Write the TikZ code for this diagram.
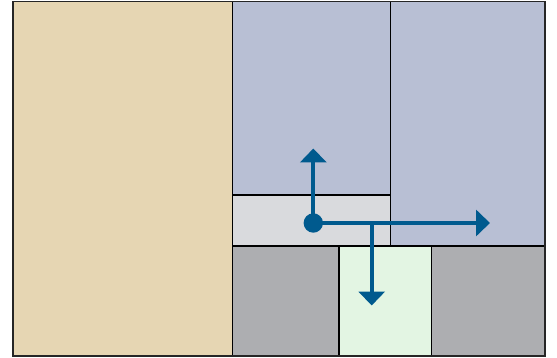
\documentclass[tikz,border=0pt]{standalone}
\usetikzlibrary{arrows.meta}
\definecolor{tanfill}{HTML}{E6D6B3}
\definecolor{bluefill}{HTML}{B8BFD4}
\definecolor{lightgrayfill}{HTML}{D9DADD}
\definecolor{darkgrayfill}{HTML}{ADAEB1}
\definecolor{greenfill}{HTML}{E3F5E3}
\definecolor{flowblue}{HTML}{005A8E}
\begin{document}
\begin{tikzpicture}[x=1pt,y=-1pt,
  panel/.style={draw=black, line width=1.1pt},
  flow/.style={draw=flowblue, line width=4pt, -{Triangle[length=14pt,width=26pt]}},
  plainflow/.style={draw=flowblue, line width=4pt}]
\useasboundingbox (0,0) rectangle (557,358);
% panels
\fill[tanfill] (13,1.5) rectangle (232.5,356);
\fill[bluefill] (232.5,1.5) rectangle (390.5,195);
\fill[bluefill] (390.5,1.5) rectangle (545,246);
\fill[lightgrayfill] (232.5,195) rectangle (390.5,246);
\fill[darkgrayfill] (232.5,246) rectangle (545,356);
\fill[greenfill] (339,246) rectangle (431.5,356);
% panel outlines
\draw[panel] (232.5,1.5) -- (232.5,356);
\draw[panel] (390.5,1.5) -- (390.5,246);
\draw[panel] (232.5,195) -- (390.5,195);
\draw[panel] (232.5,246) -- (545,246);
\draw[panel] (339,246) -- (339,356);
\draw[panel] (431.5,246) -- (431.5,356);
\draw[draw=black!85, line width=1.5pt] (13,1.5) rectangle (545,356);
% flow arrows
\coordinate (src) at (313.3,223);
\coordinate (branch) at (371.7,223);
\coordinate (up) at (313.3,148.5);
\coordinate (right) at (490,223);
\coordinate (down) at (371.7,305.5);
\draw[flow] (src) -- (up);
\draw[flow] (src) -- (right);
\draw[flow] ([yshift=-2pt]branch) -- (down);
\fill[flowblue] (src) circle (9.7);
\end{tikzpicture}
\end{document}
